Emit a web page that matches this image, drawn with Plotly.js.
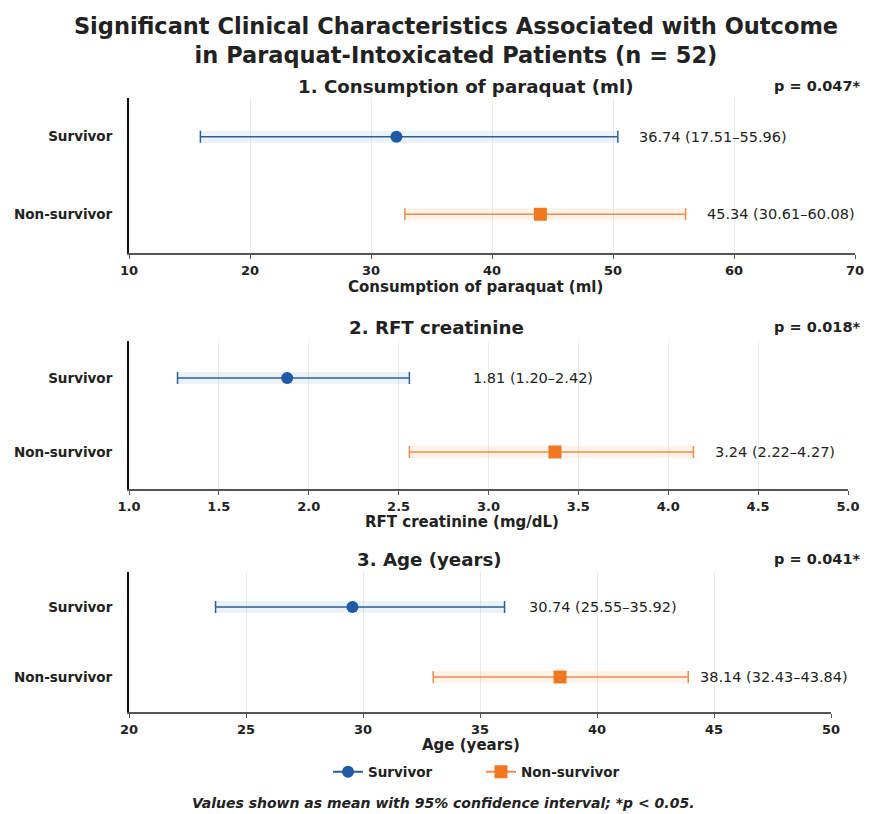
<!DOCTYPE html>
<html>
<head>
<meta charset="utf-8">
<script src="https://cdn.plot.ly/plotly-3.0.1.min.js"></script>
<style>html,body{margin:0;padding:0;background:#fff;}#chart{width:873px;height:814px;}</style>
</head>
<body>
<div id="chart"></div>
<script>
// ---- data ----
const groups = ['Survivor', 'Non-survivor'];
const panelTitles = ['1. Consumption of paraquat (ml)', '2. RFT creatinine', '3. Age (years)'];
const axisTitles = ['Consumption of paraquat (ml)', 'RFT creatinine (mg/dL)', 'Age (years)'];
const pValues = ['p = 0.047*', 'p = 0.018*', 'p = 0.041*'];

const consMean = [32.1, 44.0];
const consLo = [15.9, 32.8];
const consHi = [50.4, 56.0];
const consLabels = ['36.74 (17.51–55.96)', '45.34 (30.61–60.08)'];

const creatMean = [1.88, 3.37];
const creatLo = [1.27, 2.56];
const creatHi = [2.56, 4.14];
const creatLabels = ['1.81 (1.20–2.42)', '3.24 (2.22–4.27)'];

const ageMean = [29.55, 38.42];
const ageLo = [23.7, 33.0];
const ageHi = [36.05, 43.9];
const ageLabels = ['30.74 (25.55–35.92)', '38.14 (32.43–43.84)'];

const footnote = 'Values shown as mean with 95% confidence interval; *p < 0.05.';
const mainTitle = 'Significant Clinical Characteristics Associated with Outcome<br>in Paraquat-Intoxicated Patients (n = 52)';

// ---- styling ----
const FONT = 'DejaVu Sans, Verdana, sans-serif';
const markerColors = ['#1f5aa6', '#f07820'];
const barColors = ['#2d5f96', '#ee8c4e'];
const haloColors = ['rgba(60,130,210,0.10)', 'rgba(245,150,70,0.12)'];
const symbols = ['circle', 'square'];
const sizes = [12, 13];

const panels = [
  {mean: consMean, lo: consLo, hi: consHi, labels: consLabels, range: [10, 70], dtick: 10, fmt: 'd',
   xdom: [129/873, 855/873], ydom: [1-253/814, 1-98/814], labelX: [52.0, 57.6],
   titleX: 465, titleY: 86, axTitleX: 476, axTitleY: 287},
  {mean: creatMean, lo: creatLo, hi: creatHi, labels: creatLabels, range: [1, 5], dtick: 0.5, fmt: '.1f',
   xdom: [129/873, 848/873], ydom: [1-489/814, 1-341/814], labelX: [2.9, 4.25],
   titleX: 436, titleY: 327, axTitleX: 462, axTitleY: 522},
  {mean: ageMean, lo: ageLo, hi: ageHi, labels: ageLabels, range: [20, 50], dtick: 5, fmt: 'd',
   xdom: [129/873, 831/873], ydom: [1-712/814, 1-572/814], labelX: [37.0, 44.3],
   titleX: 429, titleY: 559, axTitleX: 471, axTitleY: 745}
];

const traces = [];
const annotations = [];
const layout = {
  width: 873, height: 814,
  margin: {l: 0, r: 0, t: 0, b: 0},
  paper_bgcolor: '#ffffff', plot_bgcolor: '#ffffff',
  font: {family: FONT, color: '#222'},
  title: {text: '<b>' + mainTitle + '</b>', x: 456/873, xanchor: 'center', y: 1 - 34/814, yanchor: 'middle',
          font: {family: FONT, size: 22.5, color: '#222'}},
  showlegend: true,
  legend: {orientation: 'h', x: 328/873, xanchor: 'left', y: 1 - 772/814, yanchor: 'middle',
           font: {family: FONT, size: 13.5, color: '#222', weight: 'bold'},
           itemwidth: 30, entrywidth: 108, entrywidthmode: 'pixels', bgcolor: 'rgba(0,0,0,0)'},
  annotations: annotations
};

panels.forEach((p, i) => {
  const xa = 'x' + (i === 0 ? '' : i + 1);
  const ya = 'y' + (i === 0 ? '' : i + 1);
  const xkey = 'xaxis' + (i === 0 ? '' : i + 1);
  const ykey = 'yaxis' + (i === 0 ? '' : i + 1);
  layout[xkey] = {
    domain: p.xdom, anchor: ya, range: p.range, dtick: p.dtick, tick0: p.range[0], tickformat: p.fmt,
    showline: true, linecolor: '#555', linewidth: 2, mirror: false,
    ticks: 'outside', ticklen: 4, tickcolor: '#555', tickwidth: 1,
    showgrid: true, gridcolor: '#ebebeb', gridwidth: 1, zeroline: false,
    tickfont: {family: FONT, size: 13, color: '#222', weight: 'bold'},
    fixedrange: true
  };
  layout[ykey] = {
    domain: p.ydom, anchor: xa, type: 'category', categoryorder: 'array',
    categoryarray: groups.slice().reverse(), range: [-0.5, 1.5],
    showline: true, linecolor: '#111', linewidth: 2, showgrid: false, zeroline: false,
    ticks: '', ticklabelstandoff: 12,
    tickfont: {family: FONT, size: 13.5, color: '#222', weight: 'bold'},
    fixedrange: true
  };
  groups.forEach((g, j) => {
    // faint halo band along the interval
    traces.push({
      type: 'scatter', mode: 'lines', x: [p.lo[j], p.hi[j]], y: [g, g], xaxis: xa, yaxis: ya,
      line: {color: haloColors[j], width: 12}, hoverinfo: 'skip', showlegend: false
    });
    traces.push({
      type: 'scatter', mode: 'lines+markers', name: g, x: [p.mean[j]], y: [g], xaxis: xa, yaxis: ya,
      marker: {color: markerColors[j], symbol: symbols[j], size: sizes[j]},
      line: {color: barColors[j], width: 2},
      error_x: {type: 'data', symmetric: false, array: [p.hi[j] - p.mean[j]], arrayminus: [p.mean[j] - p.lo[j]],
                color: barColors[j], thickness: 1.5, width: 6},
      showlegend: i === 0, legendgroup: g
    });
    annotations.push({
      xref: xa, yref: ya, x: p.labelX[j], y: g, text: p.labels[j], showarrow: false,
      xanchor: 'left', yanchor: 'middle',
      font: {family: FONT, size: 14.5, color: '#222'}
    });
  });
  annotations.push({
    xref: 'paper', yref: 'paper', x: p.titleX/873, y: 1 - p.titleY/814, text: '<b>' + panelTitles[i] + '</b>',
    showarrow: false, xanchor: 'center', yanchor: 'middle',
    font: {family: FONT, size: 18.2, color: '#222'}
  });
  annotations.push({
    xref: 'paper', yref: 'paper', x: 862/873, y: 1 - p.titleY/814, text: '<b>' + pValues[i] + '</b>',
    showarrow: false, xanchor: 'right', yanchor: 'middle',
    font: {family: FONT, size: 14.5, color: '#222'}
  });
  annotations.push({
    xref: 'paper', yref: 'paper', x: p.axTitleX/873, y: 1 - p.axTitleY/814, text: '<b>' + axisTitles[i] + '</b>',
    showarrow: false, xanchor: 'center', yanchor: 'middle',
    font: {family: FONT, size: 15, color: '#222'}
  });
});

annotations.push({
  xref: 'paper', yref: 'paper', x: 443/873, y: 1 - 803/814, text: '<b><i>' + footnote + '</i></b>',
  showarrow: false, xanchor: 'center', yanchor: 'middle',
  font: {family: FONT, size: 14, color: '#222'}
});

Plotly.newPlot('chart', traces, layout, {displayModeBar: false, staticPlot: true});
</script>
</body>
</html>
